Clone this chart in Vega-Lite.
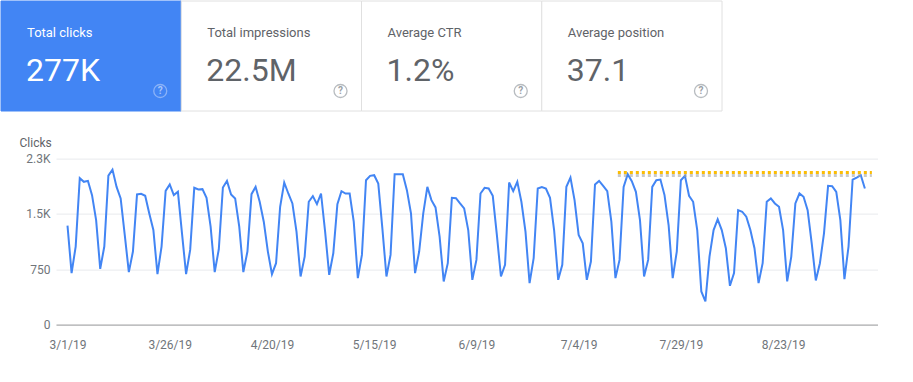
{
  "$schema": "https://vega.github.io/schema/vega-lite/v6.json",
  "background": "white",
  "padding": 0,
  "spacing": 23.6,
  "config": {"view": {"stroke": null}, "font": "Roboto"},
  "datasets": {
    "clicks": [
      {"date":"2019-03-01","clicks":1341},{"date":"2019-03-02","clicks":698},{"date":"2019-03-03","clicks":1058},{"date":"2019-03-04","clicks":1984},{"date":"2019-03-05","clicks":1935},{"date":"2019-03-06","clicks":1948},{"date":"2019-03-07","clicks":1755},{"date":"2019-03-08","clicks":1417},{"date":"2019-03-09","clicks":756},{"date":"2019-03-10","clicks":1058},{"date":"2019-03-11","clicks":2020},{"date":"2019-03-12","clicks":2101},{"date":"2019-03-13","clicks":1867},{"date":"2019-03-14","clicks":1710},{"date":"2019-03-15","clicks":1215},{"date":"2019-03-16","clicks":711},{"date":"2019-03-17","clicks":990},{"date":"2019-03-18","clicks":1764},{"date":"2019-03-19","clicks":1773},{"date":"2019-03-20","clicks":1746},{"date":"2019-03-21","clicks":1507},{"date":"2019-03-22","clicks":1282},{"date":"2019-03-23","clicks":684},{"date":"2019-03-24","clicks":1058},{"date":"2019-03-25","clicks":1813},{"date":"2019-03-26","clicks":1899},{"date":"2019-03-27","clicks":1755},{"date":"2019-03-28","clicks":1800},{"date":"2019-03-29","clicks":1237},{"date":"2019-03-30","clicks":684},{"date":"2019-03-31","clicks":1012},
      {"date":"2019-04-01","clicks":1854},{"date":"2019-04-02","clicks":1831},{"date":"2019-04-03","clicks":1836},{"date":"2019-04-04","clicks":1719},{"date":"2019-04-05","clicks":1327},{"date":"2019-04-06","clicks":711},{"date":"2019-04-07","clicks":1021},{"date":"2019-04-08","clicks":1858},{"date":"2019-04-09","clicks":1948},{"date":"2019-04-10","clicks":1764},{"date":"2019-04-11","clicks":1710},{"date":"2019-04-12","clicks":1327},{"date":"2019-04-13","clicks":711},{"date":"2019-04-14","clicks":990},{"date":"2019-04-15","clicks":1768},{"date":"2019-04-16","clicks":1867},{"date":"2019-04-17","clicks":1665},{"date":"2019-04-18","clicks":1395},{"date":"2019-04-19","clicks":990},{"date":"2019-04-20","clicks":684},{"date":"2019-04-21","clicks":832},{"date":"2019-04-22","clicks":1597},{"date":"2019-04-23","clicks":1926},{"date":"2019-04-24","clicks":1777},{"date":"2019-04-25","clicks":1642},{"date":"2019-04-26","clicks":1260},{"date":"2019-04-27","clicks":652},{"date":"2019-04-28","clicks":922},{"date":"2019-04-29","clicks":1665},{"date":"2019-04-30","clicks":1741},
      {"date":"2019-05-01","clicks":1633},{"date":"2019-05-02","clicks":1777},{"date":"2019-05-03","clicks":1260},{"date":"2019-05-04","clicks":675},{"date":"2019-05-05","clicks":967},{"date":"2019-05-06","clicks":1633},{"date":"2019-05-07","clicks":1809},{"date":"2019-05-08","clicks":1777},{"date":"2019-05-09","clicks":1777},{"date":"2019-05-10","clicks":1395},{"date":"2019-05-11","clicks":630},{"date":"2019-05-12","clicks":945},{"date":"2019-05-13","clicks":1957},{"date":"2019-05-14","clicks":2016},{"date":"2019-05-15","clicks":2025},{"date":"2019-05-16","clicks":1912},{"date":"2019-05-17","clicks":1305},{"date":"2019-05-18","clicks":652},{"date":"2019-05-19","clicks":945},{"date":"2019-05-20","clicks":2038},{"date":"2019-05-21","clicks":2038},{"date":"2019-05-22","clicks":2038},{"date":"2019-05-23","clicks":1822},{"date":"2019-05-24","clicks":1507},{"date":"2019-05-25","clicks":698},{"date":"2019-05-26","clicks":990},{"date":"2019-05-27","clicks":1507},{"date":"2019-05-28","clicks":1867},{"date":"2019-05-29","clicks":1687},{"date":"2019-05-30","clicks":1588},{"date":"2019-05-31","clicks":1192},
      {"date":"2019-06-01","clicks":585},{"date":"2019-06-02","clicks":832},{"date":"2019-06-03","clicks":1719},{"date":"2019-06-04","clicks":1714},{"date":"2019-06-05","clicks":1642},{"date":"2019-06-06","clicks":1575},{"date":"2019-06-07","clicks":1282},{"date":"2019-06-08","clicks":607},{"date":"2019-06-09","clicks":877},{"date":"2019-06-10","clicks":1777},{"date":"2019-06-11","clicks":1854},{"date":"2019-06-12","clicks":1845},{"date":"2019-06-13","clicks":1746},{"date":"2019-06-14","clicks":1215},{"date":"2019-06-15","clicks":652},{"date":"2019-06-16","clicks":810},{"date":"2019-06-17","clicks":1926},{"date":"2019-06-18","clicks":1809},{"date":"2019-06-19","clicks":1935},{"date":"2019-06-20","clicks":1665},{"date":"2019-06-21","clicks":1260},{"date":"2019-06-22","clicks":562},{"date":"2019-06-23","clicks":900},{"date":"2019-06-24","clicks":1845},{"date":"2019-06-25","clicks":1863},{"date":"2019-06-26","clicks":1845},{"date":"2019-06-27","clicks":1719},{"date":"2019-06-28","clicks":1282},{"date":"2019-06-29","clicks":607},{"date":"2019-06-30","clicks":810},
      {"date":"2019-07-01","clicks":1867},{"date":"2019-07-02","clicks":1993},{"date":"2019-07-03","clicks":1687},{"date":"2019-07-04","clicks":1215},{"date":"2019-07-05","clicks":1102},{"date":"2019-07-06","clicks":607},{"date":"2019-07-07","clicks":855},{"date":"2019-07-08","clicks":1899},{"date":"2019-07-09","clicks":1948},{"date":"2019-07-10","clicks":1881},{"date":"2019-07-11","clicks":1809},{"date":"2019-07-12","clicks":1395},{"date":"2019-07-13","clicks":630},{"date":"2019-07-14","clicks":877},{"date":"2019-07-15","clicks":1867},{"date":"2019-07-16","clicks":2038},{"date":"2019-07-17","clicks":1944},{"date":"2019-07-18","clicks":1800},{"date":"2019-07-19","clicks":1417},{"date":"2019-07-20","clicks":652},{"date":"2019-07-21","clicks":877},{"date":"2019-07-22","clicks":1867},{"date":"2019-07-23","clicks":1957},{"date":"2019-07-24","clicks":1966},{"date":"2019-07-25","clicks":1755},{"date":"2019-07-26","clicks":1350},{"date":"2019-07-27","clicks":630},{"date":"2019-07-28","clicks":990},{"date":"2019-07-29","clicks":1957},{"date":"2019-07-30","clicks":2016},{"date":"2019-07-31","clicks":1746},
      {"date":"2019-08-01","clicks":1665},{"date":"2019-08-02","clicks":1282},{"date":"2019-08-03","clicks":450},{"date":"2019-08-04","clicks":315},{"date":"2019-08-05","clicks":922},{"date":"2019-08-06","clicks":1282},{"date":"2019-08-07","clicks":1426},{"date":"2019-08-08","clicks":1282},{"date":"2019-08-09","clicks":1035},{"date":"2019-08-10","clicks":526},{"date":"2019-08-11","clicks":697},{"date":"2019-08-12","clicks":1552},{"date":"2019-08-13","clicks":1530},{"date":"2019-08-14","clicks":1462},{"date":"2019-08-15","clicks":1282},{"date":"2019-08-16","clicks":1035},{"date":"2019-08-17","clicks":562},{"date":"2019-08-18","clicks":832},{"date":"2019-08-19","clicks":1665},{"date":"2019-08-20","clicks":1710},{"date":"2019-08-21","clicks":1642},{"date":"2019-08-22","clicks":1597},{"date":"2019-08-23","clicks":1282},{"date":"2019-08-24","clicks":585},{"date":"2019-08-25","clicks":922},{"date":"2019-08-26","clicks":1642},{"date":"2019-08-27","clicks":1777},{"date":"2019-08-28","clicks":1732},{"date":"2019-08-29","clicks":1552},{"date":"2019-08-30","clicks":1102},{"date":"2019-08-31","clicks":598},
      {"date":"2019-09-01","clicks":832},{"date":"2019-09-02","clicks":1237},{"date":"2019-09-03","clicks":1881},{"date":"2019-09-04","clicks":1876},{"date":"2019-09-05","clicks":1800},{"date":"2019-09-06","clicks":1417},{"date":"2019-09-07","clicks":616},{"date":"2019-09-08","clicks":1058},{"date":"2019-09-09","clicks":1966},{"date":"2019-09-10","clicks":1993},{"date":"2019-09-11","clicks":2025},{"date":"2019-09-12","clicks":1845}
    ],
    "cards": [
      {"metric":"Total clicks","value":"277K"},
      {"metric":"Total impressions","value":"22.5M"},
      {"metric":"Average CTR","value":"1.2%"},
      {"metric":"Average position","value":"37.1"}
    ],
    "annotation": [
      {"start":"2019-07-13T14:00:00Z","end":"2019-09-13T17:00:00Z","clicks":2060}
    ]
  },
  "vconcat": [
    {
      "width": 721,
      "height": 110,
      "data": {"name": "cards"},
      "layer": [
        {
          "mark": {"type": "rect", "strokeWidth": 1, "xOffset": -55, "x2Offset": -55},
          "encoding": {
            "x": {"field": "metric", "type": "nominal", "sort": null, "axis": null, "scale": {"paddingInner": 0, "paddingOuter": 0}},
            "fill": {"condition": {"test": "datum.metric === 'Total clicks'", "value": "#4285f4"}, "value": "#ffffff"},
            "stroke": {"condition": {"test": "datum.metric === 'Total clicks'", "value": "#4285f4"}, "value": "#e0e0e0"}
          }
        },
        {
          "mark": {"type": "text", "align": "left", "baseline": "alphabetic", "dx": -29, "dy": -19, "fontSize": 13, "font": "Roboto"},
          "encoding": {
            "x": {"field": "metric", "type": "nominal", "sort": null, "bandPosition": 0},
            "text": {"field": "metric"},
            "color": {"condition": {"test": "datum.metric === 'Total clicks'", "value": "#ffffff"}, "value": "#5f6368"}
          }
        },
        {
          "mark": {"type": "text", "align": "left", "baseline": "alphabetic", "dx": -30, "dy": 25, "fontSize": 32, "font": "Roboto"},
          "encoding": {
            "x": {"field": "metric", "type": "nominal", "sort": null, "bandPosition": 0},
            "text": {"field": "value"},
            "color": {"condition": {"test": "datum.metric === 'Total clicks'", "value": "#ffffff"}, "value": "#5f6368"}
          }
        },
        {
          "mark": {"type": "point", "shape": "circle", "filled": false, "size": 169, "strokeWidth": 1.3, "xOffset": -76, "yOffset": 35},
          "encoding": {
            "x": {"field": "metric", "type": "nominal", "sort": null, "bandPosition": 1},
            "color": {"condition": {"test": "datum.metric === 'Total clicks'", "value": "#a9c6fa"}, "value": "#9aa0a6"}
          }
        },
        {
          "mark": {"type": "text", "align": "center", "baseline": "middle", "dx": -76, "dy": 35, "fontSize": 10, "fontWeight": "bold", "font": "Roboto", "text": "?"},
          "encoding": {
            "x": {"field": "metric", "type": "nominal", "sort": null, "bandPosition": 1},
            "color": {"condition": {"test": "datum.metric === 'Total clicks'", "value": "#a9c6fa"}, "value": "#9aa0a6"}
          }
        }
      ]
    },
    {
      "width": 822,
      "height": 166,
      "layer": [
        {
          "data": {"name": "clicks"},
          "mark": {"type": "line", "color": "#4285f4", "strokeWidth": 2},
          "encoding": {
            "x": {
              "field": "date", "type": "temporal",
              "scale": {"type": "utc", "nice": false, "domain": [{"year": 2019, "month": 2, "date": 26, "hours": 4, "minutes": 30, "utc": true}, {"year": 2019, "month": 9, "date": 15, "hours": 5, "utc": true}]},
              "axis": {
                "title": null,
                "values": [
                  {"year": 2019, "month": 3, "date": 1, "utc": true},
                  {"year": 2019, "month": 3, "date": 26, "utc": true},
                  {"year": 2019, "month": 4, "date": 20, "utc": true},
                  {"year": 2019, "month": 5, "date": 15, "utc": true},
                  {"year": 2019, "month": 6, "date": 9, "utc": true},
                  {"year": 2019, "month": 7, "date": 4, "utc": true},
                  {"year": 2019, "month": 7, "date": 29, "utc": true},
                  {"year": 2019, "month": 8, "date": 23, "utc": true}
                ],
                "format": "%-m/%-d/%y",
                "grid": false, "ticks": false,
                "domainColor": "#9e9e9e", "domainWidth": 1,
                "labelFont": "Roboto", "labelFontSize": 12, "labelColor": "#70757a", "labelPadding": 15
              }
            },
            "y": {
              "field": "clicks", "type": "quantitative",
              "scale": {"domain": [0, 2250], "nice": false},
              "axis": {
                "title": "Clicks", "titleAngle": 0, "titleAlign": "left", "titleBaseline": "alphabetic",
                "titleX": -37, "titleY": -12.6, "titleFont": "Roboto", "titleFontSize": 12, "titleFontWeight": "normal", "titleColor": "#5f6368",
                "values": [0, 750, 1500, 2250],
                "labelExpr": "datum.value >= 1000 ? format(datum.value / 1000, '.1f') + 'K' : format(datum.value, 'd')",
                "labelFont": "Roboto", "labelFontSize": 12, "labelColor": "#70757a",
                "domain": false, "ticks": true, "tickSize": 55, "tickColor": "transparent", "labelPadding": -49,
                "grid": true, "gridColor": "#e8eaed", "gridWidth": 1
              }
            }
          }
        },
        {
          "data": {"name": "annotation"},
          "mark": {"type": "rule", "color": "#9e9e9e", "opacity": 0.55, "strokeDash": [3, 3], "strokeWidth": 3, "yOffset": 3},
          "encoding": {
            "x": {"field": "start", "type": "temporal"},
            "x2": {"field": "end"},
            "y": {"field": "clicks", "type": "quantitative"}
          }
        },
        {
          "data": {"name": "annotation"},
          "mark": {"type": "rule", "color": "#fbbc04", "strokeDash": [3, 3], "strokeWidth": 3},
          "encoding": {
            "x": {"field": "start", "type": "temporal"},
            "x2": {"field": "end"},
            "y": {"field": "clicks", "type": "quantitative"}
          }
        }
      ]
    }
  ]
}
